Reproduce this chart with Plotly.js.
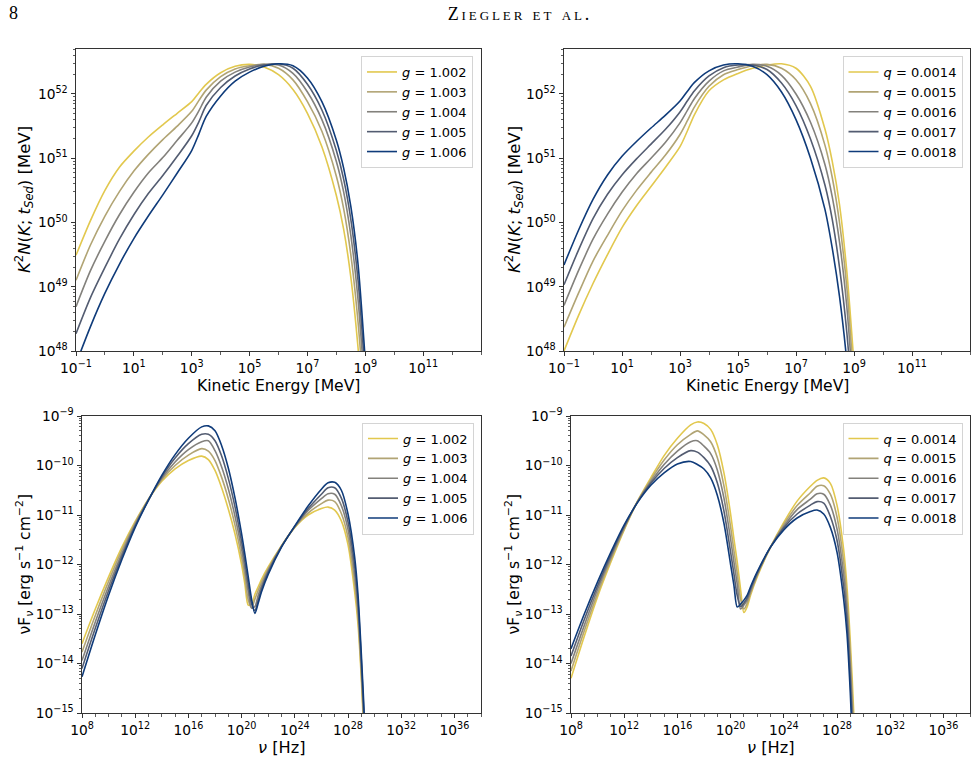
<!DOCTYPE html>
<html>
<head>
<meta charset="utf-8">
<script src="https://cdn.plot.ly/plotly-3.0.1.min.js"></script>
<style>
  html, body { margin: 0; padding: 0; background: #ffffff; }
  #plot { width: 977px; height: 781px; }
  /* running head is letter-spaced like the journal's small caps */
  #plot g.annotation[data-index="9"] text { letter-spacing: 2.9px; }
</style>
</head>
<body>
<div id="plot"></div>
<script>
// ---------------------------------------------------------------
// Particle spectra: log10 of kinetic energy [MeV]
const logEnergy = [-1, -0.5, 0, 0.5, 1, 1.5, 2, 2.5, 3, 3.25, 3.5, 4, 4.5, 5, 5.5, 6, 6.5, 7, 7.5, 8, 8.25, 8.5, 8.75, 9, 9.25];

// log10 of K^2 N(K; t_Sed) [MeV], varying g
const specG1002 = [49.49, 50.03, 50.50, 50.86, 51.11, 51.33, 51.52, 51.70, 51.88, 52.02, 52.15, 52.33, 52.43, 52.46, 52.42, 52.30, 52.07, 51.70, 51.18, 50.42, 49.90, 49.15, 48.05, 46.60, 45.00];
const specG1003 = [49.10, 49.65, 50.10, 50.48, 50.80, 51.06, 51.29, 51.50, 51.73, 51.90, 52.06, 52.27, 52.39, 52.44, 52.46, 52.40, 52.22, 51.88, 51.42, 50.72, 50.22, 49.50, 48.45, 47.00, 45.50];
const specG1004 = [48.69, 49.25, 49.71, 50.12, 50.47, 50.77, 51.01, 51.28, 51.55, 51.74, 51.95, 52.20, 52.34, 52.42, 52.46, 52.45, 52.32, 52.03, 51.60, 50.95, 50.48, 49.80, 48.80, 47.30, 45.80];
const specG1005 = [48.27, 48.83, 49.30, 49.74, 50.12, 50.45, 50.73, 51.03, 51.35, 51.57, 51.82, 52.10, 52.28, 52.39, 52.45, 52.47, 52.40, 52.15, 51.75, 51.12, 50.68, 50.05, 49.10, 47.60, 46.00];
const specG1006 = [47.80, 48.38, 48.90, 49.35, 49.75, 50.10, 50.43, 50.77, 51.12, 51.38, 51.65, 51.97, 52.20, 52.34, 52.43, 52.47, 52.44, 52.25, 51.88, 51.28, 50.85, 50.25, 49.35, 47.85, 46.20];

// log10 of K^2 N(K; t_Sed) [MeV], varying q
const specQ0014 = [48.00, 48.55, 49.05, 49.50, 49.92, 50.26, 50.56, 50.86, 51.18, 51.42, 51.68, 52.05, 52.22, 52.32, 52.40, 52.45, 52.47, 52.40, 52.12, 51.45, 50.95, 50.28, 49.25, 47.80, 46.20];
const specQ0015 = [48.37, 48.90, 49.40, 49.80, 50.18, 50.50, 50.78, 51.05, 51.37, 51.58, 51.80, 52.12, 52.30, 52.38, 52.44, 52.46, 52.40, 52.22, 51.85, 51.20, 50.70, 50.00, 49.00, 47.50, 46.00];
const specQ0016 = [48.71, 49.25, 49.74, 50.13, 50.47, 50.76, 51.00, 51.25, 51.55, 51.74, 51.93, 52.20, 52.36, 52.42, 52.46, 52.43, 52.29, 52.00, 51.56, 50.90, 50.40, 49.70, 48.70, 47.20, 45.70];
const specQ0017 = [49.03, 49.57, 50.06, 50.44, 50.74, 50.99, 51.22, 51.45, 51.72, 51.89, 52.05, 52.28, 52.41, 52.45, 52.45, 52.38, 52.17, 51.82, 51.30, 50.58, 50.05, 49.30, 48.30, 46.90, 45.40];
const specQ0018 = [49.34, 49.88, 50.36, 50.74, 51.03, 51.26, 51.47, 51.67, 51.89, 52.04, 52.18, 52.36, 52.45, 52.47, 52.43, 52.30, 52.03, 51.60, 51.00, 50.20, 49.60, 48.85, 47.85, 46.50, 45.00];

// ---------------------------------------------------------------
// Spectral energy distributions: log10 of frequency [Hz]
const logNu = [8, 9, 10, 11, 12, 13, 14, 15, 16, 17, 17.5, 18, 18.5, 19, 19.5, 20, 20.25, 20.5, 20.75, 21, 21.25, 21.5, 22, 23, 24, 25, 26, 26.5, 27, 27.5, 28, 28.5, 28.75, 29, 29.25, 29.5];

// log10 of nu F_nu [erg s^-1 cm^-2], varying g
const sedG1002 = [-13.60, -12.90, -12.25, -11.65, -11.13, -10.68, -10.32, -10.07, -9.90, -9.81, -9.88, -10.10, -10.45, -10.88, -11.38, -12.00, -12.40, -12.82, -12.80, -12.60, -12.45, -12.30, -12.05, -11.62, -11.25, -11.00, -10.87, -10.84, -10.90, -11.12, -11.60, -12.55, -13.20, -14.30, -15.80, -17.50];
const sedG1003 = [-13.77, -13.03, -12.34, -11.71, -11.16, -10.68, -10.29, -10.00, -9.79, -9.66, -9.71, -9.90, -10.24, -10.67, -11.20, -11.85, -12.25, -12.72, -12.87, -12.70, -12.52, -12.36, -12.09, -11.63, -11.24, -10.96, -10.77, -10.70, -10.73, -10.97, -11.45, -12.38, -13.05, -14.18, -15.65, -17.40];
const sedG1004 = [-13.94, -13.16, -12.44, -11.78, -11.19, -10.69, -10.26, -9.93, -9.68, -9.52, -9.50, -9.70, -10.03, -10.47, -11.02, -11.69, -12.10, -12.55, -12.88, -12.85, -12.62, -12.43, -12.12, -11.63, -11.24, -10.91, -10.67, -10.57, -10.58, -10.81, -11.29, -12.20, -12.90, -14.05, -15.50, -17.25];
const sedG1005 = [-14.10, -13.29, -12.53, -11.84, -11.22, -10.70, -10.23, -9.85, -9.56, -9.37, -9.37, -9.50, -9.81, -10.26, -10.83, -11.54, -11.95, -12.40, -12.80, -12.93, -12.72, -12.49, -12.16, -11.64, -11.23, -10.87, -10.58, -10.45, -10.45, -10.66, -11.14, -12.03, -12.75, -13.93, -15.35, -17.10];
const sedG1006 = [-14.27, -13.42, -12.62, -11.90, -11.25, -10.70, -10.20, -9.78, -9.45, -9.22, -9.20, -9.30, -9.60, -10.05, -10.65, -11.38, -11.80, -12.25, -12.70, -12.99, -12.78, -12.55, -12.20, -11.65, -11.22, -10.82, -10.48, -10.35, -10.34, -10.50, -10.98, -11.85, -12.60, -13.80, -15.20, -17.00];

// log10 of nu F_nu [erg s^-1 cm^-2], varying q
const sedQ0014 = [-14.30, -13.45, -12.65, -11.95, -11.30, -10.72, -10.25, -9.80, -9.45, -9.18, -9.12, -9.15, -9.27, -9.58, -10.15, -10.98, -11.48, -11.95, -12.50, -12.97, -12.85, -12.62, -12.25, -11.65, -11.15, -10.72, -10.42, -10.30, -10.25, -10.36, -10.80, -11.70, -12.45, -13.55, -14.95, -16.80];
const sedQ0015 = [-14.15, -13.34, -12.58, -11.90, -11.28, -10.73, -10.29, -9.89, -9.58, -9.37, -9.30, -9.38, -9.52, -9.84, -10.41, -11.24, -11.72, -12.18, -12.70, -12.90, -12.78, -12.58, -12.22, -11.65, -11.19, -10.81, -10.55, -10.42, -10.41, -10.58, -11.04, -11.95, -12.69, -13.81, -15.26, -17.10];
const sedQ0016 = [-14.00, -13.23, -12.50, -11.85, -11.25, -10.73, -10.33, -9.98, -9.71, -9.52, -9.50, -9.61, -9.76, -10.09, -10.66, -11.49, -11.95, -12.40, -12.90, -12.82, -12.72, -12.54, -12.20, -11.65, -11.23, -10.89, -10.68, -10.57, -10.58, -10.80, -11.28, -12.20, -12.93, -14.08, -15.58, -17.40];
const sedQ0017 = [-13.85, -13.11, -12.43, -11.80, -11.23, -10.74, -10.36, -10.06, -9.84, -9.70, -9.73, -9.84, -10.01, -10.35, -10.92, -11.75, -12.19, -12.63, -12.85, -12.78, -12.67, -12.49, -12.17, -11.65, -11.26, -10.98, -10.80, -10.73, -10.76, -11.03, -11.51, -12.45, -13.16, -14.34, -15.89, -17.70];
const sedQ0018 = [-13.70, -13.00, -12.35, -11.75, -11.20, -10.75, -10.40, -10.15, -9.97, -9.92, -9.98, -10.07, -10.25, -10.60, -11.17, -12.00, -12.42, -12.86, -12.80, -12.72, -12.62, -12.45, -12.15, -11.65, -11.30, -11.06, -10.93, -10.90, -10.98, -11.25, -11.75, -12.70, -13.40, -14.60, -16.20, -18.00];

// ---------------------------------------------------------------
// Tick exponents
const energyTickExp = [-1, 1, 3, 5, 7, 9, 11];
const spectrumTickExp = [48, 49, 50, 51, 52];
const nuTickExp = [8, 12, 16, 20, 24, 28, 32, 36];
const sedTickExp = [-15, -14, -13, -12, -11, -10, -9];

const gLabels = ['1.002', '1.003', '1.004', '1.005', '1.006'];
const qLabels = ['0.0014', '0.0015', '0.0016', '0.0017', '0.0018'];

const lineColors = ['#E2C84E', '#B1A474', '#83817C', '#535C71', '#0F3B7A'];

// ---------------------------------------------------------------
const pow10 = arr => arr.map(v => Math.pow(10, v));
const MINUS = '\u2212';
const powLabel = e => '10<sup>' + (e < 0 ? MINUS + Math.abs(e) : e) + '</sup>';

function decadeMinors(lo, hi, skip) {
  const out = [];
  for (let e = lo; e <= hi; e++) if (!skip.includes(e)) out.push(Math.pow(10, e));
  return out;
}
function digitMinors(lo, hi, top) {
  const out = [];
  for (let e = lo; e <= hi; e++) {
    for (let k = 2; k <= 9; k++) {
      const v = k * Math.pow(10, e);
      if (v <= top) out.push(v);
    }
  }
  return out;
}

const W = 977, H = 781;
const px = x => x / W;
const py = y => 1 - y / H;

const tickFont = { family: 'DejaVu Sans, sans-serif', size: 13.8, color: '#000000' };
const frame = {
  type: 'log', showgrid: false, zeroline: false,
  showline: true, linecolor: '#333333', linewidth: 1, mirror: true,
  ticks: 'outside', ticklen: 4.5, tickwidth: 1, tickcolor: '#333333',
  tickfont: tickFont, tickmode: 'array', fixedrange: true
};
function minorOf(vals) {
  return { tickmode: 'array', tickvals: vals, ticks: 'outside', ticklen: 2.5,
           tickwidth: 0.8, tickcolor: '#333333', showgrid: false };
}

function energyX(domain, anchor) {
  return Object.assign({}, frame, {
    domain: domain, anchor: anchor, range: [-1, 13], ticklen: 4,
    tickvals: pow10(energyTickExp), ticktext: energyTickExp.map(powLabel),
    minor: minorOf(decadeMinors(-1, 13, energyTickExp))
  });
}
function spectrumY(domain, anchor) {
  return Object.assign({}, frame, {
    domain: domain, anchor: anchor, range: [48, 52.7],
    tickvals: pow10(spectrumTickExp), ticktext: spectrumTickExp.map(powLabel),
    minor: minorOf(digitMinors(48, 52, Math.pow(10, 52.7)))
  });
}
function nuX(domain, anchor) {
  return Object.assign({}, frame, {
    domain: domain, anchor: anchor, range: [8, 38], ticklen: 4,
    tickvals: pow10(nuTickExp), ticktext: nuTickExp.map(powLabel),
    minor: minorOf(decadeMinors(8, 38, nuTickExp))
  });
}
function sedY(domain, anchor) {
  return Object.assign({}, frame, {
    domain: domain, anchor: anchor, range: [-15, -9],
    tickvals: pow10(sedTickExp), ticktext: sedTickExp.map(powLabel),
    minor: minorOf(digitMinors(-15, -10, 1e-9))
  });
}

const traces = [];
function addPanel(xs, seriesList, labels, symbol, xa, ya, legendId) {
  seriesList.forEach((s, i) => {
    traces.push({
      type: 'scatter', mode: 'lines',
      x: pow10(xs), y: pow10(s),
      xaxis: xa, yaxis: ya, legend: legendId,
      name: '<i>' + symbol + '</i> = ' + labels[i],
      line: { color: lineColors[i], width: 1.6, shape: 'spline', smoothing: 0.8 },
      hoverinfo: 'skip'
    });
  });
}

addPanel(logEnergy, [specG1002, specG1003, specG1004, specG1005, specG1006], gLabels, 'g', 'x', 'y', 'legend');
addPanel(logEnergy, [specQ0014, specQ0015, specQ0016, specQ0017, specQ0018], qLabels, 'q', 'x2', 'y2', 'legend2');
addPanel(logNu, [sedG1002, sedG1003, sedG1004, sedG1005, sedG1006], gLabels, 'g', 'x3', 'y3', 'legend3');
addPanel(logNu, [sedQ0014, sedQ0015, sedQ0016, sedQ0017, sedQ0018], qLabels, 'q', 'x4', 'y4', 'legend4');

function legendAt(right, top) {
  return {
    x: px(right), y: py(top), xanchor: 'right', yanchor: 'top',
    bgcolor: 'rgba(255,255,255,0.85)', bordercolor: '#d4d4d4', borderwidth: 1,
    font: { family: 'DejaVu Sans, sans-serif', size: 13, color: '#000000' },
    tracegroupgap: 0, itemwidth: 30
  };
}

const titleFont = { family: 'DejaVu Sans, sans-serif', size: 15.6, color: '#000000' };
const kTitle = '<i>K</i><sup>2</sup><i>N</i>(<i>K</i>; <i>t</i><sub><i>Sed</i></sub>) [MeV]';
const fTitle = '\u03bdF<sub><i>\u03bd</i></sub> [erg s<sup>' + MINUS + '1</sup> cm<sup>' + MINUS + '2</sup>]';

function note(text, x, y, opts) {
  return Object.assign({
    text: text, x: px(x), y: py(y), xref: 'paper', yref: 'paper',
    showarrow: false, xanchor: 'center', yanchor: 'middle', font: titleFont
  }, opts || {});
}

const kFont = Object.assign({}, titleFont, { size: 16.5 });
const nuFont = Object.assign({}, titleFont, { size: 16.2 });

const annotations = [
  note('Kinetic Energy [MeV]', 278.5, 386),
  note('Kinetic Energy [MeV]', 767, 386),
  note('<i>\u03bd</i> [Hz]', 281.5, 747, { font: nuFont }),
  note('<i>\u03bd</i> [Hz]', 770.5, 747, { font: nuFont }),
  note(kTitle, 24, 200, { textangle: -90, font: kFont }),
  note(kTitle, 514, 200, { textangle: -90, font: kFont }),
  note(fTitle, 25, 564.5, { textangle: -90 }),
  note(fTitle, 514, 564.5, { textangle: -90 }),
  note('8', 7, 13.5, { xanchor: 'left', font: { family: 'Liberation Serif, serif', size: 18, color: '#000000' } }),
  note('Ziegler et al.', 520, 14, { font: { family: 'Liberation Serif, serif', size: 18, color: '#000000', variant: 'small-caps' } })
];

const layout = {
  width: W, height: H,
  margin: { l: 0, r: 0, t: 0, b: 0 },
  paper_bgcolor: '#ffffff', plot_bgcolor: '#ffffff',
  showlegend: true,
  xaxis: energyX([px(76), px(481)], 'y'),
  yaxis: spectrumY([py(351), py(49)], 'x'),
  xaxis2: energyX([px(564), px(970)], 'y2'),
  yaxis2: spectrumY([py(351), py(49)], 'x2'),
  xaxis3: nuX([px(82), px(481)], 'y3'),
  yaxis3: sedY([py(713), py(416)], 'x3'),
  xaxis4: nuX([px(571), px(970)], 'y4'),
  yaxis4: sedY([py(713), py(416)], 'x4'),
  legend: legendAt(473, 56),
  legend2: legendAt(962.5, 56),
  legend3: legendAt(474, 422.5),
  legend4: legendAt(962.5, 422.5),
  annotations: annotations
};

Plotly.newPlot('plot', traces, layout, { staticPlot: true, displayModeBar: false });
</script>
</body>
</html>
